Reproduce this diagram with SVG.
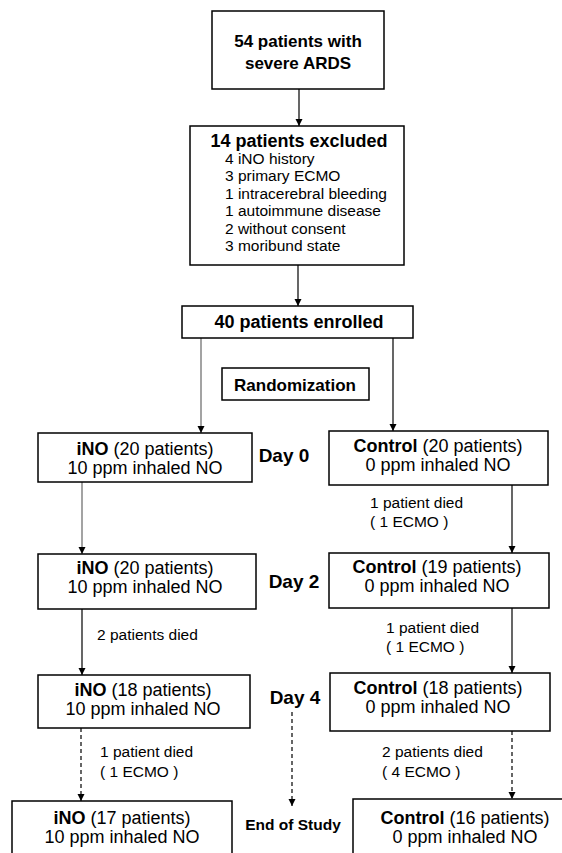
<svg xmlns="http://www.w3.org/2000/svg" width="562" height="853" viewBox="0 0 562 853">
<style>
.box{fill:#fff;stroke:#000;stroke-width:1.5}
text{font-family:"Liberation Sans",Arial,sans-serif;fill:#000}
.t{font-size:18px;text-anchor:middle}
.b{font-weight:bold}
.h{font-size:17px;font-weight:bold;text-anchor:middle}
.h18{font-size:18px;font-weight:bold;text-anchor:middle}
.i{font-size:15.5px}
.d{font-size:19px;font-weight:bold;text-anchor:middle}
.e{font-size:15.5px;font-weight:bold;text-anchor:middle}
.ln{stroke:#000;stroke-width:1.2;fill:none}
.gr{stroke:#666}
.da{stroke-dasharray:4 3}
</style>
<defs>
<marker id="a" markerWidth="8" markerHeight="8" refX="7" refY="4" orient="auto" markerUnits="userSpaceOnUse">
<path d="M0,0.5 L7,4 L0,7.5 z" fill="#000"/>
</marker>
</defs>

<g id="connectors">
<path class="ln" d="M299,89 V126" marker-end="url(#a)"/>
<path class="ln" d="M298,265 V306" marker-end="url(#a)"/>
<path class="ln gr" d="M201,338 V433" marker-end="url(#a)"/>
<path class="ln" d="M393,338 V431" marker-end="url(#a)"/>
<path class="ln gr" d="M82,482 V554" marker-end="url(#a)"/>
<path class="ln" d="M512,485 V553" marker-end="url(#a)"/>
<path class="ln" d="M82,609 V675" marker-end="url(#a)"/>
<path class="ln" d="M512,608 V673" marker-end="url(#a)"/>
<path class="ln da" d="M81,728 V801" marker-end="url(#a)"/>
<path class="ln da" d="M292,712 V806" marker-end="url(#a)"/>
<path class="ln da" d="M512,731 V799" marker-end="url(#a)"/>
</g>

<g id="start">
<rect class="box" x="212" y="11" width="172" height="78"/>
<text class="h" x="298" y="47">54 patients with</text>
<text class="h" x="298" y="69">severe ARDS</text>
</g>

<g id="excluded">
<rect class="box" x="190" y="126" width="214" height="139"/>
<text class="h18" x="299" y="147">14 patients excluded</text>
<text class="i" x="225" y="164">4 iNO history</text>
<text class="i" x="225" y="181">3 primary ECMO</text>
<text class="i" x="225" y="198.5">1 intracerebral bleeding</text>
<text class="i" x="225" y="216">1 autoimmune disease</text>
<text class="i" x="225" y="233.5">2 without consent</text>
<text class="i" x="225" y="251">3 moribund state</text>
</g>

<g id="enrolled">
<rect class="box" x="182" y="306" width="231" height="32"/>
<text class="h18" x="299" y="328">40 patients enrolled</text>
</g>

<g id="randomization">
<rect class="box" x="222" y="368" width="147" height="32"/>
<text class="h" x="295" y="391">Randomization</text>
</g>

<g id="ino-day0">
<rect class="box" x="38" y="433" width="214" height="49"/>
<text class="t" x="145" y="455"><tspan class="b">iNO</tspan> (20 patients)</text>
<text class="t" x="145" y="474">10 ppm inhaled NO</text>
</g>
<g id="control-day0">
<rect class="box" x="329" y="431" width="219" height="54"/>
<text class="t" x="438" y="452"><tspan class="b">Control</tspan> (20 patients)</text>
<text class="t" x="438" y="471">0 ppm inhaled NO</text>
</g>
<text class="d" x="284" y="462">Day 0</text>
<text class="i" x="370" y="508">1 patient died</text>
<text class="i" x="370" y="527">( 1 ECMO )</text>

<g id="ino-day2">
<rect class="box" x="38" y="554" width="218" height="55"/>
<text class="t" x="145" y="574"><tspan class="b">iNO</tspan> (20 patients)</text>
<text class="t" x="145" y="593">10 ppm inhaled NO</text>
</g>
<g id="control-day2">
<rect class="box" x="329" y="553" width="220" height="55"/>
<text class="t" x="437" y="573"><tspan class="b">Control</tspan> (19 patients)</text>
<text class="t" x="437" y="592">0 ppm inhaled NO</text>
</g>
<text class="d" x="294" y="588">Day 2</text>
<text class="i" x="97" y="640">2 patients died</text>
<text class="i" x="386" y="633">1 patient died</text>
<text class="i" x="386" y="652">( 1 ECMO )</text>

<g id="ino-day4">
<rect class="box" x="38" y="675" width="212" height="53"/>
<text class="t" x="143" y="696"><tspan class="b">iNO</tspan> (18 patients)</text>
<text class="t" x="143" y="715">10 ppm inhaled NO</text>
</g>
<g id="control-day4">
<rect class="box" x="330" y="673" width="220" height="58"/>
<text class="t" x="438" y="694"><tspan class="b">Control</tspan> (18 patients)</text>
<text class="t" x="438" y="713">0 ppm inhaled NO</text>
</g>
<text class="d" x="295" y="704">Day 4</text>
<text class="i" x="100" y="757">1 patient died</text>
<text class="i" x="100" y="777">( 1 ECMO )</text>
<text class="i" x="382" y="757">2 patients died</text>
<text class="i" x="382" y="777">( 4 ECMO )</text>

<g id="ino-end">
<rect class="box" x="12" y="801" width="220" height="70"/>
<text class="t" x="122" y="824"><tspan class="b">iNO</tspan> (17 patients)</text>
<text class="t" x="122" y="843">10 ppm inhaled NO</text>
</g>
<g id="control-end">
<rect class="box" x="353" y="799" width="222" height="70"/>
<text class="t" x="465" y="824"><tspan class="b">Control</tspan> (16 patients)</text>
<text class="t" x="465" y="843">0 ppm inhaled NO</text>
</g>
<text class="e" x="293" y="830">End of Study</text>
</svg>
